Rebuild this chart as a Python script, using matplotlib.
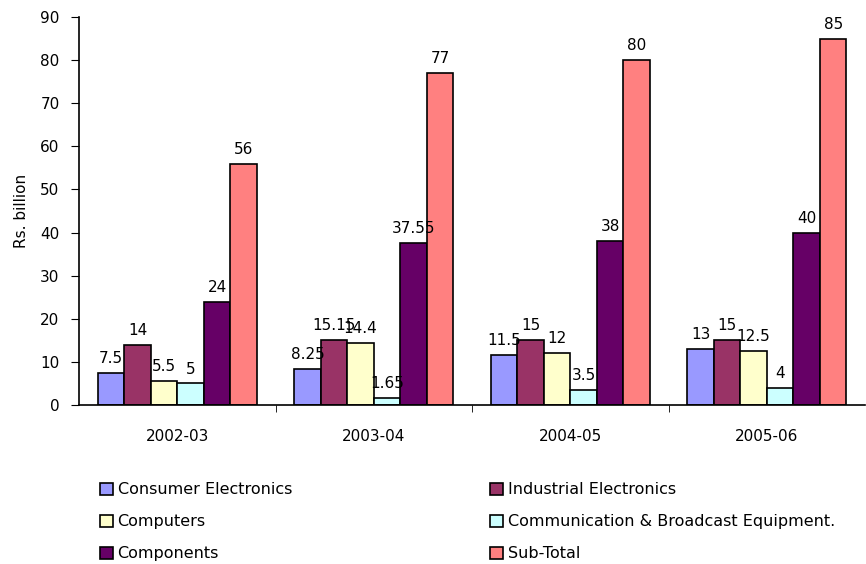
import matplotlib.pyplot as plt
import numpy as np

years = ["2002-03", "2003-04", "2004-05", "2005-06"]
series = ["Consumer Electronics", "Industrial Electronics", "Computers",
          "Communication & Broadcast Equipment.", "Components", "Sub-Total"]
consumer = [7.5, 8.25, 11.5, 13]
industrial = [14, 15.15, 15, 15]
computers = [5.5, 14.4, 12, 12.5]
communication = [5, 1.65, 3.5, 4]
components = [24, 37.55, 38, 40]
subtotal = [56, 77, 80, 85]
values = [consumer, industrial, computers, communication, components, subtotal]
colors = ["#9999FF", "#993366", "#FFFFCC", "#CCFFFF", "#660066", "#FF8080"]

fig = plt.figure(figsize=(8.66, 5.64), dpi=100)
ax = fig.add_axes([0.0912, 0.2819, 0.9078, 0.688])

x = np.arange(len(years))
w = 0.135
handles = []
for i in range(len(series)):
    pos = x - 2.5 * w + i * w
    bars = ax.bar(pos, values[i], w, color=colors[i], edgecolor="black",
                  linewidth=1.2, label=series[i])
    ax.bar_label(bars, labels=["%g" % v for v in values[i]], padding=5, fontsize=11)
    handles.append(bars)

ax.set_xlim(-0.5, len(years) - 0.5)
ax.set_ylim(0, 90)
ax.set_yticks(range(0, 91, 10))
ax.set_xticks(x)
ax.set_xticklabels(years)
ax.set_xticks(np.arange(0.5, len(years) - 0.5, 1), minor=True)
ax.tick_params(axis="x", which="major", length=0, labelsize=11, pad=17)
ax.tick_params(axis="x", which="minor", length=5, direction="out")
ax.tick_params(axis="y", length=6, labelsize=11, pad=8)
ax.spines["top"].set_visible(False)
ax.spines["right"].set_visible(False)
ax.spines["left"].set_linewidth(1.2)
ax.spines["bottom"].set_linewidth(1.2)
ax.set_ylabel("Rs. billion", fontsize=11, labelpad=8)

left = [handles[0], handles[2], handles[4]]
right = [handles[1], handles[3], handles[5]]
for hs, xpos in [(left, 0.1155), (right, 0.566)]:
    fig.legend(hs, [h.get_label() for h in hs], loc="upper left",
               bbox_to_anchor=(xpos, 0.145), frameon=False, fontsize=11.5,
               handlelength=0.8, handleheight=0.8, handletextpad=0.3,
               labelspacing=1.07, borderpad=0, borderaxespad=0)

fig.savefig("out.png", dpi=100)
